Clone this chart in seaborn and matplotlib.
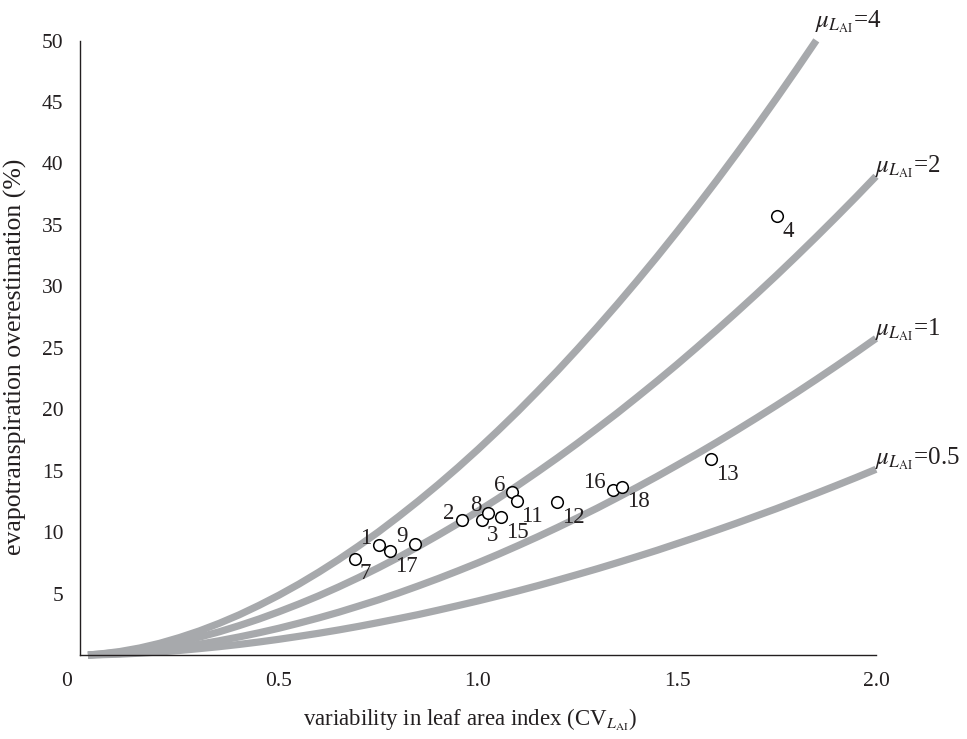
import matplotlib
matplotlib.use("Agg")
import matplotlib.pyplot as plt
import seaborn as sns
import pandas as pd

# Model curves: overestimation (%) vs CV of LAI for four mean LAI values
cv_grid = [0.02, 0.05, 0.1, 0.15, 0.2, 0.25, 0.3, 0.35, 0.4, 0.45, 0.5,
           0.55, 0.6, 0.65, 0.7, 0.75, 0.8, 0.85, 0.9, 0.95, 1.0,
           1.05, 1.1, 1.15, 1.2, 1.25, 1.3, 1.35, 1.4, 1.45, 1.5,
           1.55, 1.6, 1.65, 1.7, 1.75, 1.8, 1.85, 1.9, 1.95, 2.0]
over_mu4 = [0.0, 0.08, 0.28, 0.57, 0.95, 1.42, 1.96, 2.58, 3.27, 4.04, 4.87,
            5.77, 6.74, 7.77, 8.87, 10.02, 11.25, 12.53, 13.87, 15.27, 16.73,
            18.25, 19.82, 21.46, 23.14, 24.89, 26.69, 28.54, 30.45, 32.41, 34.43,
            36.50, 38.62, 40.80, 43.02, 45.30, 47.63, 50.01]
over_mu2 = [0.0, 0.07, 0.22, 0.44, 0.72, 1.06, 1.45, 1.89, 2.39, 2.93, 3.52,
            4.15, 4.82, 5.54, 6.30, 7.10, 7.94, 8.83, 9.75, 10.70, 11.70,
            12.73, 13.80, 14.91, 16.05, 17.23, 18.45, 19.69, 20.98, 22.29, 23.64,
            25.03, 26.45, 27.90, 29.38, 30.89, 32.44, 34.02, 35.63, 37.27, 38.95]
over_mu1 = [0.0, 0.04, 0.12, 0.26, 0.43, 0.64, 0.88, 1.16, 1.47, 1.81, 2.18,
            2.59, 3.02, 3.48, 3.98, 4.49, 5.04, 5.62, 6.22, 6.85, 7.50,
            8.18, 8.89, 9.62, 10.38, 11.16, 11.96, 12.80, 13.65, 14.53, 15.44,
            16.36, 17.31, 18.29, 19.29, 20.31, 21.35, 22.42, 23.51, 24.62, 25.76]
over_mu05 = [0.0, 0.02, 0.07, 0.15, 0.25, 0.37, 0.52, 0.68, 0.86, 1.06, 1.28,
             1.52, 1.77, 2.04, 2.33, 2.64, 2.96, 3.29, 3.65, 4.02, 4.40,
             4.80, 5.21, 5.64, 6.09, 6.55, 7.02, 7.51, 8.01, 8.52, 9.06,
             9.60, 10.16, 10.73, 11.32, 11.91, 12.53, 13.15, 13.79, 14.44, 15.11]
curve_labels = ["4", "2", "1", "0.5"]

# Site observations
site_ids = ["1", "2", "3", "4", "6", "7", "8", "9", "11", "12",
            "13", "15", "16", "17", "18"]
site_cv = [0.750, 0.959, 1.009, 1.752, 1.085, 0.691, 1.026, 0.842, 1.097, 1.198,
           1.585, 1.059, 1.338, 0.780, 1.363]
site_over = [8.93, 10.95, 10.95, 35.7, 13.25, 7.85, 11.58, 9.06, 12.5, 12.44,
             15.96, 11.23, 13.45, 8.47, 13.7]
label_upper_left = {"1", "2", "6", "8", "9", "16"}

sns.set_theme(style="white")
plt.rcParams["font.family"] = ["Liberation Serif", "DejaVu Serif"]
plt.rcParams["mathtext.fontset"] = "stix"

ink = "#231f20"
grey = "#a7a9ac"

fig = plt.figure(figsize=(9.67, 7.39), dpi=100)
ax = fig.add_axes([80 / 967, 1 - 655 / 739, 796 / 967, 614.5 / 739])

curve_sets = [over_mu4, over_mu2, over_mu1, over_mu05]
rows = []
for lab, ys in zip(curve_labels, curve_sets):
    for xv, yv in zip(cv_grid, ys):
        rows.append({"cv": xv, "over": yv, "mu": lab})
curves = pd.DataFrame(rows)

sns.lineplot(data=curves, x="cv", y="over", units="mu", estimator=None,
             color=grey, linewidth=5.2, sort=False, ax=ax, legend=False)
for line in ax.lines:
    line.set_clip_on(False)
    line.set_solid_capstyle("butt")
    line.set_solid_joinstyle("round")

# curve names sit just past the end of each curve
name_dy = [4, -3, -3, -2]
for lab, ys, dy in zip(curve_labels, curve_sets, name_dy):
    xe, ye = cv_grid[len(ys) - 1], ys[-1]
    ax.annotate(r"$\mu_{L_{\mathrm{AI}}}$=" + lab, xy=(xe, ye),
                xytext=(-1, dy), textcoords="offset points",
                ha="left", va="bottom", fontsize=18, color=ink,
                annotation_clip=False)

sites = pd.DataFrame({"cv": site_cv, "over": site_over, "id": site_ids})
sns.scatterplot(data=sites, x="cv", y="over", ax=ax, s=70, marker="o",
                facecolor="white", edgecolor="black", linewidth=1.1,
                zorder=5, legend=False)

for sid, xv, yv in zip(site_ids, site_cv, site_over):
    if sid in label_upper_left:
        ax.annotate(sid, xy=(xv, yv), xytext=(-5, 1), textcoords="offset points",
                    ha="right", va="baseline", fontsize=16.5, color=ink)
    else:
        ax.annotate(sid, xy=(xv, yv), xytext=(3.5, -3.5), textcoords="offset points",
                    ha="left", va="top", fontsize=16.5, color=ink)

ax.set_xlim(0, 2.0)
ax.set_ylim(0, 50)
ax.set_xticks([0.5, 1.0, 1.5, 2.0])
ax.set_xticklabels(["0.5", "1.0", "1.5", "2.0"])
ax.set_yticks([5, 10, 15, 20, 25, 30, 35, 40, 45, 50])
ax.tick_params(axis="both", direction="in", length=5, width=1, colors=ink,
               labelsize=15.5, labelcolor=ink)
ax.tick_params(axis="x", pad=12)
ax.tick_params(axis="y", pad=12)
ax.annotate("0", xy=(0, 0), xytext=(-10, -12), textcoords="offset points",
            ha="center", va="top", fontsize=15.5, color=ink, annotation_clip=False)

for side in ["top", "right"]:
    ax.spines[side].set_visible(False)
for side in ["left", "bottom"]:
    ax.spines[side].set_color(ink)
    ax.spines[side].set_linewidth(1.0)

ax.set_xlabel(r"variability in leaf area index (CV$_{L_{\mathrm{AI}}}$)",
              fontsize=16.5, color=ink)
ax.set_ylabel("evapotranspiration overestimation (%)", fontsize=18.5, color=ink)
ax.xaxis.set_label_coords((470 - 80) / 796, (655 - 720) / 614.5)
ax.xaxis.label.set_va("center")
ax.yaxis.set_label_coords((15 - 80) / 796, (655 - 357) / 614.5)
ax.yaxis.label.set_va("center")

fig.savefig("out.png", dpi=100)
